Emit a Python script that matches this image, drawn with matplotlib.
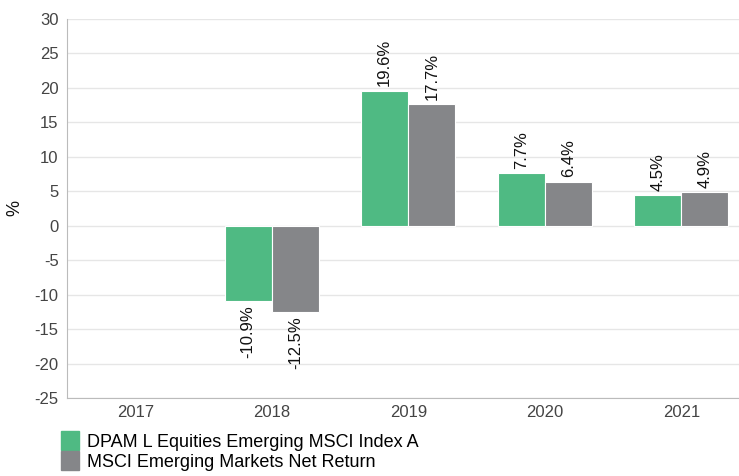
import numpy as np
import matplotlib.pyplot as plt
from matplotlib.patches import Patch

years = ['2017', '2018', '2019', '2020', '2021']
fund = [np.nan, -10.9, 19.6, 7.7, 4.5]
index = [np.nan, -12.5, 17.7, 6.4, 4.9]
fund_name = 'DPAM L Equities Emerging MSCI Index A'
index_name = 'MSCI Emerging Markets Net Return'

green = '#4fba83'
grey = '#858689'

plt.rcParams['font.family'] = ['Liberation Sans', 'DejaVu Sans']
plt.rcParams['axes.unicode_minus'] = False

fig = plt.figure(figsize=(7.39, 4.76), dpi=100)
ax = fig.add_axes([67 / 739, 78 / 476, 672 / 739, 379 / 476])

x = np.arange(len(years))
w = 0.345
b1 = ax.bar(x - w / 2, fund, w, color=green, edgecolor='white', linewidth=0.8, zorder=3)
b2 = ax.bar(x + w / 2, index, w, color=grey, edgecolor='white', linewidth=0.8, zorder=3)

for bars, vals in [(b1, fund), (b2, index)]:
    for rect, v in zip(bars, vals):
        if np.isnan(v):
            continue
        cx = rect.get_x() + rect.get_width() / 2
        ax.annotate(f'{v:.1f}%', (cx, v), xytext=(0, 3 if v > 0 else -3),
                    textcoords='offset points', rotation=90, ha='center',
                    va='bottom' if v > 0 else 'top', fontsize=12, color='#111111')

ax.set_xlim(-0.5, 4.423)
ax.set_ylim(-25, 30)
ax.set_yticks(range(-25, 31, 5))
ax.set_xticks(x)
ax.set_xticklabels(years)
ax.grid(axis='y', color='#e6e6e6', linewidth=1, zorder=0)
for s in ['top', 'right']:
    ax.spines[s].set_visible(False)
ax.spines['left'].set_color('#bbbbbb')
ax.spines['bottom'].set_color('#bbbbbb')
ax.tick_params(axis='y', length=0, labelsize=12, colors='#444444', pad=6)
ax.tick_params(axis='x', length=0, labelsize=12, colors='#444444', pad=5)

# y axis title placed by hand so it stays inside the figure
fig.text(15 / 739, 1 - 208 / 476, '%', rotation=90, ha='center', va='center',
         fontsize=13, color='#111111')

handles = [Patch(color=green), Patch(color=grey)]
fig.legend(handles, [fund_name, index_name], loc='lower left',
           bbox_to_anchor=(54 / 739, -2 / 476), frameon=False, fontsize=13,
           handlelength=1.0, handleheight=1.2, handletextpad=0.45, labelspacing=0.05,
           borderaxespad=0)

fig.savefig('out.png', dpi=100)
